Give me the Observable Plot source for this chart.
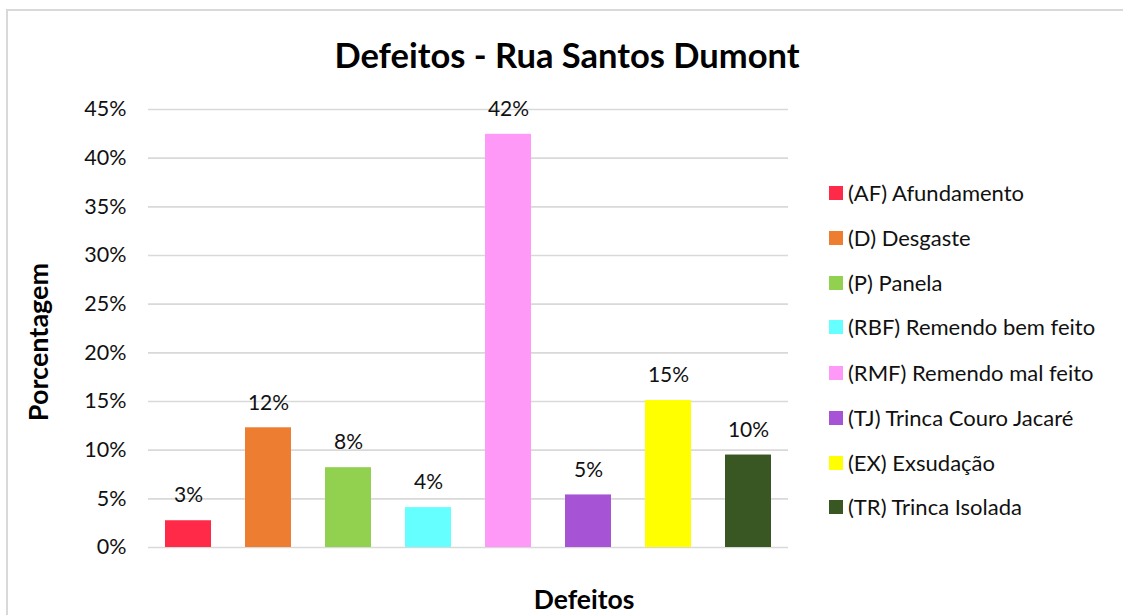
<!DOCTYPE html>
<html>
<head>
<meta charset="utf-8">
<script src="https://cdn.jsdelivr.net/npm/d3@7"></script>
<script src="https://cdn.jsdelivr.net/npm/@observablehq/plot@0.6"></script>
<style>
  html, body { margin: 0; padding: 0; background: #fff; }
  body { width: 1123px; height: 615px; overflow: hidden; font-family: Lato, "Open Sans", sans-serif; }
  #wrap { position: relative; width: 1123px; height: 615px; }
  #frame { position: absolute; left: 6px; top: 9px; width: 1200px; height: 700px; border-top: 2px solid #d9d9d9; border-left: 2px solid #d9d9d9; box-sizing: border-box; }
  #chart { position: absolute; left: 0; top: 0; }
  #title { position: absolute; left: 0; width: 1134px; top: 55px; transform: translateY(-50%); text-align: center; font-size: 34.5px; font-weight: bold; color: #000; line-height: 1; }
  #ylab { position: absolute; left: 37px; top: 342px; transform: translate(-50%, -50%) rotate(-90deg); font-size: 27px; font-weight: bold; white-space: nowrap; color: #000; line-height: 1; }
  #xlab { position: absolute; left: 584px; top: 599px; transform: translate(-50%, -50%); font-size: 26.5px; font-weight: bold; white-space: nowrap; color: #000; line-height: 1; }
  #legend { position: absolute; left: 829px; top: 0; }
  .item { position: absolute; left: 0; white-space: nowrap; font-size: 22px; color: #111; display: flex; align-items: center; transform: translateY(-50%); line-height: 1; }
  .sw { width: 14px; height: 14px; margin-right: 5px; flex: none; }
</style>
</head>
<body>
<div id="wrap">
  <div id="frame"></div>
  <div id="chart"></div>
  <div id="title">Defeitos - Rua Santos Dumont</div>
  <div id="ylab">Porcentagem</div>
  <div id="xlab">Defeitos</div>
  <div id="legend"></div>
</div>
<script>
const codes = ["AF", "D", "P", "RBF", "RMF", "TJ", "EX", "TR"];
const names = ["(AF) Afundamento", "(D) Desgaste", "(P) Panela", "(RBF) Remendo bem feito", "(RMF) Remendo mal feito", "(TJ) Trinca Couro Jacaré", "(EX) Exsudação", "(TR) Trinca Isolada"];
const values = [0.0275, 0.123, 0.082, 0.041, 0.4245, 0.054, 0.151, 0.095];
const labels = ["3%", "12%", "8%", "4%", "42%", "5%", "15%", "10%"];
const colors = ["#FF2A47", "#ED7D31", "#92D050", "#66FFFF", "#FF99F8", "#A653D6", "#FFFF00", "#385723"];
const yTicks = [0, 0.05, 0.10, 0.15, 0.20, 0.25, 0.30, 0.35, 0.40, 0.45];

const data = codes.map((c, i) => ({code: c, name: names[i], value: values[i], label: labels[i]}));

const chart = Plot.plot({
  width: 1123,
  height: 615,
  marginLeft: 148,
  marginRight: 335,
  marginTop: 109,
  marginBottom: 68,
  style: {fontFamily: "Lato, 'Open Sans', sans-serif", fontSize: "21.5px", color: "#111", background: "transparent"},
  x: {domain: codes, paddingInner: 0.425, paddingOuter: 0.2125, axis: null},
  y: {domain: [0, 0.45], ticks: yTicks, tickFormat: d3.format(".0%"), tickSize: 0, tickPadding: 22, label: null},
  color: {domain: codes, range: colors},
  marks: [
    Plot.ruleY(yTicks, {stroke: "#d9d9d9", strokeWidth: 1.6}),
    Plot.barY(data, {x: "code", y: "value", fill: "code"}),
    Plot.text(data, {x: "code", y: "value", text: "label", dy: -25, fontSize: 21, fill: "#111"})
  ]
});
document.getElementById("chart").appendChild(chart);

const legend = document.getElementById("legend");
const rowY = [193, 238, 283, 327, 373, 418, 463, 507];
names.forEach((n, i) => {
  const d = document.createElement("div");
  d.className = "item";
  d.style.top = rowY[i] + "px";
  const s = document.createElement("span");
  s.className = "sw";
  s.style.background = colors[i];
  const t = document.createElement("span");
  t.textContent = n;
  d.appendChild(s); d.appendChild(t);
  legend.appendChild(d);
});
</script>
</body>
</html>
